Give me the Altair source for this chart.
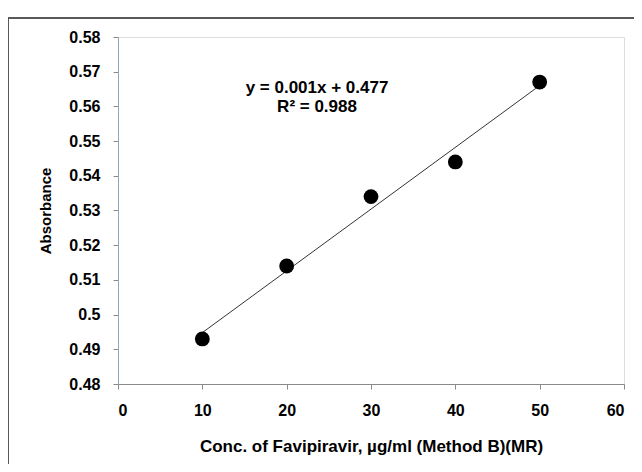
import altair as alt
import pandas as pd

conc = [10, 20, 30, 40, 50]
absorbance = [0.493, 0.514, 0.534, 0.544, 0.567]
eq_lines = ["y = 0.001x + 0.477", "R² = 0.988"]
eq_x = [23.6, 23.6]
eq_y = [0.5652, 0.5597]
x_ticks = [0, 10, 20, 30, 40, 50, 60]
y_ticks = [0.48, 0.49, 0.5, 0.51, 0.52, 0.53, 0.54, 0.55, 0.56, 0.57, 0.58]

df = pd.DataFrame({"x": conc, "y": absorbance})
ann = pd.DataFrame({"x": eq_x, "y": eq_y, "t": eq_lines})

FONT = "Liberation Sans"

xs = alt.Scale(domain=[0, 60], nice=False)
ys = alt.Scale(domain=[0.48, 0.58], nice=False, zero=False)

x_axis = alt.Axis(
    values=x_ticks, title="Conc. of Favipiravir, µg/ml (Method B)(MR)",
    grid=False, labelFontWeight="bold", labelFontSize=16, labelFont=FONT,
    titleFont=FONT, titleFontSize=17, titleFontWeight="bold", titlePadding=20,
    labelPadding=13, tickSize=5, domainColor="#8a8a8a", tickColor="#8a8a8a",
    labelColor="black", titleColor="black", labelOverlap=False)
y_axis = alt.Axis(
    values=y_ticks, format=".2~f", title="Absorbance", grid=False,
    labelFontWeight="bold", labelFontSize=16, labelFont=FONT,
    titleFont=FONT, titleFontSize=15, titleFontWeight="bold", titlePadding=15,
    labelPadding=13, tickSize=5, domainColor="#8fa6c4", tickColor="#8a8a8a",
    labelColor="black", titleColor="black", labelOverlap=False)

x_enc = alt.X("x:Q", scale=xs, axis=x_axis)
y_enc = alt.Y("y:Q", scale=ys, axis=y_axis)

base = alt.Chart(df)

trend = base.transform_regression("x", "y", extent=[10, 50]).mark_line(
    color="#333333", strokeWidth=1).encode(x=x_enc, y=y_enc)

pts = base.mark_circle(size=220, color="black", opacity=1).encode(x=x_enc, y=y_enc)

txt = alt.Chart(ann).mark_text(font=FONT, fontSize=17, fontWeight="bold",
                               color="black").encode(x=x_enc, y=y_enc, text="t:N")

frame_left = alt.Chart(df).mark_rule(color="#555555", strokeWidth=1).encode(
    x=alt.value(-110), y=alt.value(-19), y2=alt.value(500))
frame_top = alt.Chart(df).mark_rule(color="#555555", strokeWidth=1).encode(
    x=alt.value(-110), x2=alt.value(700), y=alt.value(-19))

chart = alt.layer(trend, pts, txt, frame_left, frame_top).properties(
    width=506, height=347,
    autosize=alt.AutoSizeParams(type="none"),
    padding={"left": 110, "top": 29, "right": 10, "bottom": 80},
).configure_view(stroke="#8fa6c4", strokeWidth=1.2).configure(background="white")

chart.save("out.html", embed_options={"renderer": "svg", "actions": False})
